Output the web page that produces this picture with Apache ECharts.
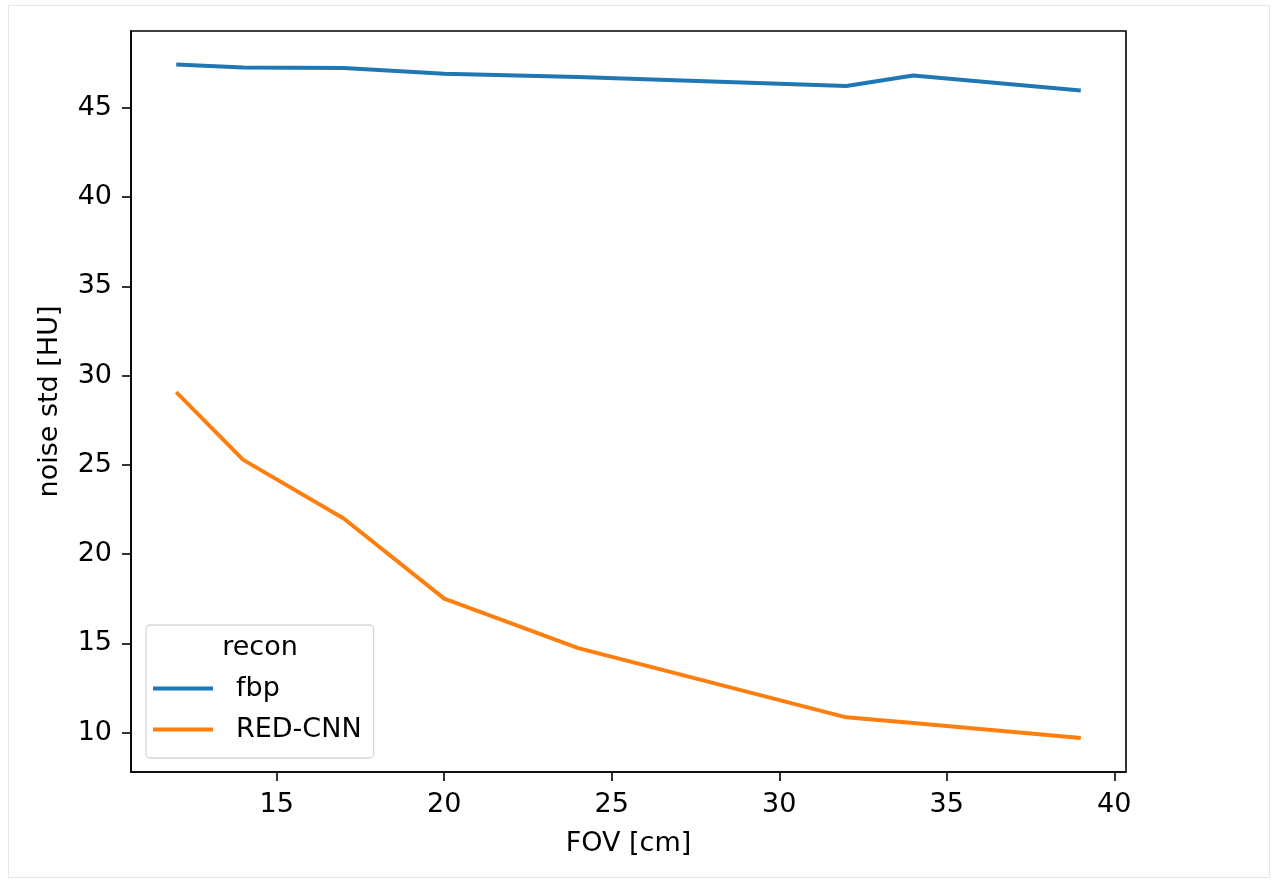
<!DOCTYPE html>
<html>
<head>
<meta charset="utf-8">
<script src="https://cdn.jsdelivr.net/npm/echarts@6/dist/echarts.min.js"></script>
<style>
html,body{margin:0;padding:0;background:#fff;}
#frame{position:absolute;left:8px;top:5px;width:1262px;height:873px;border:1px solid #e6e6e6;box-sizing:border-box;}
#chart{position:absolute;left:0;top:0;width:1275px;height:882px;}
</style>
</head>
<body>
<div id="frame"></div>
<div id="chart"></div>
<script>
const fov = [12, 14, 17, 20, 24, 32, 34, 39];
const fbp = [47.42, 47.26, 47.23, 46.90, 46.72, 46.22, 46.81, 45.97];
const redcnn = [29.08, 25.28, 22.00, 17.51, 14.74, 10.86, 10.55, 9.70];
const seriesNames = ['fbp', 'RED-CNN'];
const legendTitle = 'recon';
const xName = 'FOV [cm]';
const yName = 'noise std [HU]';

const FONT = 'DejaVu Sans';
const FS = 27;
const chart = echarts.init(document.getElementById('chart'), null, {renderer: 'canvas'});
const pairs = (xs, ys) => xs.map((x, i) => [x, ys[i]]);
const fmt5 = v => (Math.abs(v / 5 - Math.round(v / 5)) < 1e-6 ? String(Math.round(v)) : '');

chart.setOption({
  animation: false,
  backgroundColor: 'transparent',
  textStyle: {fontFamily: FONT},
  grid: {left: 131, top: 31, right: 149, bottom: 110, show: true, borderColor: '#000', borderWidth: 1.6, containLabel: false},
  xAxis: {
    type: 'value', min: 10.65, max: 40.35, splitNumber: 6,
    name: xName, nameLocation: 'middle', nameGap: 58,
    nameTextStyle: {fontFamily: FONT, fontSize: FS, color: '#000'},
    axisLine: {show: true, lineStyle: {color: '#000', width: 1.6}},
    axisTick: {show: true, length: 9, lineStyle: {color: '#000', width: 1.6}},
    axisLabel: {fontFamily: FONT, fontSize: FS, color: '#000', margin: 19, formatter: fmt5, showMinLabel: false, showMaxLabel: false},
    splitLine: {show: false}
  },
  yAxis: {
    type: 'value', min: 7.8, max: 49.3, splitNumber: 8,
    name: yName, nameLocation: 'middle', nameGap: 68,
    nameTextStyle: {fontFamily: FONT, fontSize: FS, color: '#000'},
    axisLine: {show: true, lineStyle: {color: '#000', width: 1.6}},
    axisTick: {show: true, length: 9, lineStyle: {color: '#000', width: 1.6}},
    axisLabel: {fontFamily: FONT, fontSize: FS, color: '#000', margin: 19, formatter: fmt5, showMinLabel: false, showMaxLabel: false},
    splitLine: {show: false}
  },
  legend: {
    orient: 'vertical', left: 146, top: 625,
    padding: [50, 12, 15, 7],
    itemWidth: 60, itemHeight: 4, itemGap: 14,
    icon: 'rect',
    borderColor: '#d6d6d6', borderWidth: 1.3, borderRadius: 4, backgroundColor: 'rgba(255,255,255,0.8)',
    textStyle: {fontFamily: FONT, fontSize: FS, color: '#000', padding: [0, 0, 0, 18]},
    data: seriesNames
  },
  graphic: [{
    type: 'text', x: 260, y: 648, z: 100,
    style: {text: legendTitle, font: FS + 'px "DejaVu Sans"', fill: '#000', textAlign: 'center', textVerticalAlign: 'middle'}
  }],
  series: [
    {name: seriesNames[0], type: 'line', data: pairs(fov, fbp), showSymbol: false, symbol: 'none',
     lineStyle: {color: '#1f77b4', width: 4}, itemStyle: {color: '#1f77b4'}},
    {name: seriesNames[1], type: 'line', data: pairs(fov, redcnn), showSymbol: false, symbol: 'none',
     lineStyle: {color: '#ff7f0e', width: 4}, itemStyle: {color: '#ff7f0e'}}
  ]
});
</script>
</body>
</html>
